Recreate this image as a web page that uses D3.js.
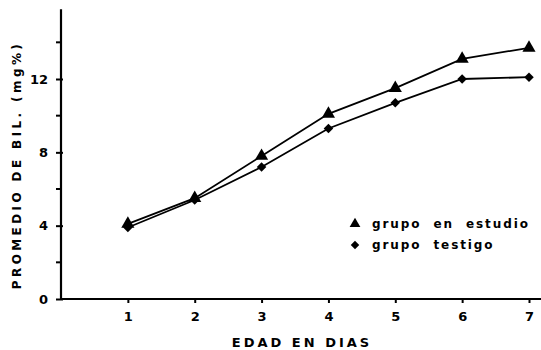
<!DOCTYPE html>
<html><head><meta charset="utf-8">
<script src="https://cdn.jsdelivr.net/npm/d3@7/dist/d3.min.js"></script>
<style>
body{margin:0;background:#fff;}
svg text{font-family:"DejaVu Sans",sans-serif;font-weight:bold;fill:#000;}
</style></head>
<body><svg id="c" width="541" height="350"></svg>
<script>
const days = [1, 2, 3, 4, 5, 6, 7];
const estudio = [4.1, 5.5, 7.8, 10.1, 11.5, 13.1, 13.7];
const testigo = [3.9, 5.4, 7.2, 9.3, 10.7, 12.0, 12.1];
const yTickLabels = [0, 4, 8, 12];
const yMinorTicks = [2, 6, 10, 14];
const seriesNames = ["grupo en estudio", "grupo testigo"];
const xTitle = "EDAD EN DIAS";
const yTitle = "PROMEDIO DE BIL. (mg%)";

const svg = d3.select("#c");
const x = d3.scaleLinear().domain([0, 7]).range([61, 529]);
const y = d3.scaleLinear().domain([0, 12]).range([299, 79]);

// axes
const xAxis = svg.append("g").attr("transform", `translate(0,${y(0)})`)
  .call(d3.axisBottom(x).tickValues(days).tickSize(4).tickPadding(9).tickFormat(d3.format("d")));
xAxis.select(".domain").attr("d", `M${x(0)},0H541`);
const yAxis = svg.append("g").attr("transform", `translate(${x(0)},0)`)
  .call(d3.axisLeft(y).tickValues(yTickLabels).tickSize(5).tickPadding(8).tickFormat(d3.format("d")));
yAxis.select(".domain").attr("d", `M0,${y(0)+1}V${y(15.8)}`);
yAxis.selectAll(".tick line").attr("x2", -5).attr("x1", 2);
svg.append("g").selectAll("line").data(yMinorTicks).join("line")
  .attr("x1", x(0) - 5).attr("x2", x(0) + 1)
  .attr("y1", d => y(d)).attr("y2", d => y(d)).attr("stroke", "#000").attr("stroke-width", 2);
svg.selectAll(".domain").attr("stroke", "#000").attr("stroke-width", 2.2);
svg.selectAll(".tick line").attr("stroke", "#000").attr("stroke-width", 2);
svg.selectAll(".tick text").style("font-size", "13px");

// titles
svg.append("text").attr("x", 302).attr("y", 347).attr("text-anchor", "middle")
  .style("font-size", "13px").style("letter-spacing", "3px").text(xTitle);
svg.append("text").attr("transform", "translate(21,165) rotate(-90)").attr("text-anchor", "middle")
  .style("font-size", "12px").style("letter-spacing", "3.4px").text(yTitle);

// lines
const line = d3.line().x((d, i) => x(days[i])).y(d => y(d));
[estudio, testigo].forEach(s => {
  svg.append("path").datum(s).attr("d", line).attr("fill", "none")
    .attr("stroke", "#000").attr("stroke-width", 1.8);
});
svg.append("g").selectAll("path").data(estudio).join("path")
  .attr("transform", (d, i) => `translate(${x(days[i])},${y(d)})`)
  .attr("d", d3.symbol(d3.symbolTriangle, 75)).attr("fill", "#000");
svg.append("g").selectAll("path").data(testigo).join("path")
  .attr("transform", (d, i) => `translate(${x(days[i])},${y(d)}) rotate(45)`)
  .attr("d", d3.symbol(d3.symbolSquare, 45)).attr("fill", "#000");

// legend
const lg = svg.append("g");
seriesNames.forEach((n, i) => {
  const yy = 224 + i * 21;
  lg.append("path").attr("transform", `translate(355,${yy})` + (i ? " rotate(45)" : ""))
    .attr("d", d3.symbol(i ? d3.symbolSquare : d3.symbolTriangle, i ? 36 : 50)).attr("fill", "#000");
  lg.append("text").attr("x", 372).attr("y", yy + 4).style("font-size", "12px")
    .style("letter-spacing", "1.9px").attr("word-spacing", "6px").text(n);
});
</script></body></html>
